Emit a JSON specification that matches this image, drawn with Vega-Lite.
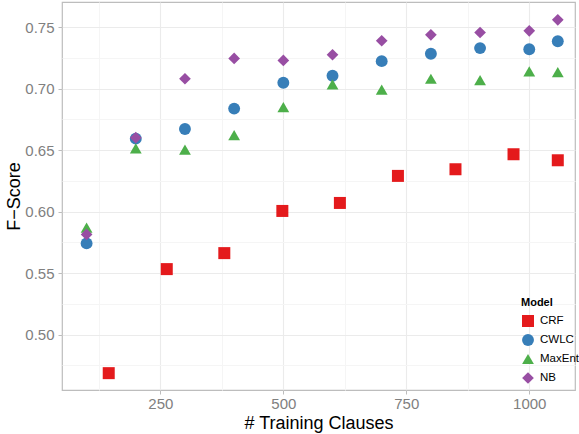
{
  "$schema": "https://vega.github.io/schema/vega-lite/v6.json",
  "width": 513,
  "height": 388,
  "autosize": "none",
  "padding": {"left": 62, "top": 2, "right": 4, "bottom": 44},
  "background": "white",
  "config": {
    "font": "Liberation Sans",
    "view": {"stroke": "#BDBDBD", "strokeWidth": 1.2}
  },
  "data": {
    "values": [
      {"clauses": 145, "fscore": 0.4687, "Model": "CRF"},
      {"clauses": 263, "fscore": 0.5533, "Model": "CRF"},
      {"clauses": 380, "fscore": 0.5663, "Model": "CRF"},
      {"clauses": 498, "fscore": 0.6006, "Model": "CRF"},
      {"clauses": 615, "fscore": 0.6071, "Model": "CRF"},
      {"clauses": 733, "fscore": 0.6291, "Model": "CRF"},
      {"clauses": 850, "fscore": 0.6345, "Model": "CRF"},
      {"clauses": 968, "fscore": 0.6467, "Model": "CRF"},
      {"clauses": 1058, "fscore": 0.6418, "Model": "CRF"},
      {"clauses": 100, "fscore": 0.5742, "Model": "CWLC"},
      {"clauses": 200, "fscore": 0.6594, "Model": "CWLC"},
      {"clauses": 300, "fscore": 0.6672, "Model": "CWLC"},
      {"clauses": 400, "fscore": 0.6838, "Model": "CWLC"},
      {"clauses": 500, "fscore": 0.7049, "Model": "CWLC"},
      {"clauses": 600, "fscore": 0.7105, "Model": "CWLC"},
      {"clauses": 700, "fscore": 0.7224, "Model": "CWLC"},
      {"clauses": 800, "fscore": 0.7284, "Model": "CWLC"},
      {"clauses": 900, "fscore": 0.7330, "Model": "CWLC"},
      {"clauses": 1000, "fscore": 0.7321, "Model": "CWLC"},
      {"clauses": 1058, "fscore": 0.7386, "Model": "CWLC"},
      {"clauses": 100, "fscore": 0.5870, "Model": "MaxEnt"},
      {"clauses": 200, "fscore": 0.6515, "Model": "MaxEnt"},
      {"clauses": 300, "fscore": 0.6505, "Model": "MaxEnt"},
      {"clauses": 400, "fscore": 0.6623, "Model": "MaxEnt"},
      {"clauses": 500, "fscore": 0.6850, "Model": "MaxEnt"},
      {"clauses": 600, "fscore": 0.7036, "Model": "MaxEnt"},
      {"clauses": 700, "fscore": 0.6993, "Model": "MaxEnt"},
      {"clauses": 800, "fscore": 0.7081, "Model": "MaxEnt"},
      {"clauses": 900, "fscore": 0.7070, "Model": "MaxEnt"},
      {"clauses": 1000, "fscore": 0.7140, "Model": "MaxEnt"},
      {"clauses": 1058, "fscore": 0.7135, "Model": "MaxEnt"},
      {"clauses": 100, "fscore": 0.5815, "Model": "NB"},
      {"clauses": 200, "fscore": 0.6602, "Model": "NB"},
      {"clauses": 300, "fscore": 0.7081, "Model": "NB"},
      {"clauses": 400, "fscore": 0.7246, "Model": "NB"},
      {"clauses": 500, "fscore": 0.7230, "Model": "NB"},
      {"clauses": 600, "fscore": 0.7276, "Model": "NB"},
      {"clauses": 700, "fscore": 0.7390, "Model": "NB"},
      {"clauses": 800, "fscore": 0.7438, "Model": "NB"},
      {"clauses": 900, "fscore": 0.7457, "Model": "NB"},
      {"clauses": 1000, "fscore": 0.7471, "Model": "NB"},
      {"clauses": 1058, "fscore": 0.7560, "Model": "NB"}
    ]
  },
  "mark": {"type": "point", "filled": true, "opacity": 1},
  "encoding": {
    "x": {
      "field": "clauses",
      "type": "quantitative",
      "scale": {"domain": [50, 1093], "nice": false, "zero": false},
      "axis": {
        "title": "# Training Clauses",
        "titleFontSize": 18,
        "titleFontWeight": "normal",
        "titleColor": "black",
        "titlePadding": 3,
        "values": [125, 250, 375, 500, 625, 750, 875, 1000],
        "labelExpr": "datum.value % 250 == 0 ? format(datum.value, 'd') : ''",
        "labelFontSize": 15,
        "labelColor": "#808080",
        "labelPadding": 2,
        "domain": false,
        "tickSize": 4,
        "tickColor": "#BDBDBD",
        "tickOpacity": {"condition": {"test": "datum.value % 250 == 0", "value": 1}, "value": 0},
        "gridColor": {"condition": {"test": "datum.value % 250 == 0", "value": "#EBEBEB"}, "value": "#F5F5F5"},
        "gridWidth": 1.1
      }
    },
    "y": {
      "field": "fscore",
      "type": "quantitative",
      "scale": {"domain": [0.455, 0.7705], "nice": false, "zero": false},
      "axis": {
        "title": "F\u2212Score",
        "titleFontSize": 18,
        "titleFontWeight": "normal",
        "titleColor": "black",
        "titlePadding": 1,
        "values": [0.475, 0.5, 0.525, 0.55, 0.575, 0.6, 0.625, 0.65, 0.675, 0.7, 0.725, 0.75],
        "labelExpr": "abs(datum.value*20 - round(datum.value*20)) < 0.001 ? format(datum.value, '.2f') : ''",
        "labelFontSize": 15,
        "labelColor": "#808080",
        "labelPadding": 4,
        "domain": false,
        "tickSize": 4,
        "tickColor": "#BDBDBD",
        "tickOpacity": {"condition": {"test": "abs(datum.value*20 - round(datum.value*20)) < 0.001", "value": 1}, "value": 0},
        "gridColor": {"condition": {"test": "abs(datum.value*20 - round(datum.value*20)) < 0.001", "value": "#EBEBEB"}, "value": "#F5F5F5"},
        "gridWidth": 1.1
      }
    },
    "color": {
      "field": "Model",
      "type": "nominal",
      "scale": {"domain": ["CRF", "CWLC", "MaxEnt", "NB"], "range": ["#E41A1C", "#377EB8", "#4DAF4A", "#984EA3"]},
      "legend": {
        "orient": "none",
        "legendX": 459,
        "legendY": 295,
        "title": "Model",
        "titleFontSize": 11,
        "titleFontWeight": "bold",
        "titleColor": "black",
        "titlePadding": 6,
        "labelFontSize": 11.5,
        "labelColor": "black",
        "labelOffset": 5,
        "rowPadding": 1,
        "symbolSize": 150,
        "symbolOpacity": 1
      }
    },
    "shape": {
      "field": "Model",
      "type": "nominal",
      "scale": {"domain": ["CRF", "CWLC", "MaxEnt", "NB"], "range": ["square", "circle", "triangle-up", "diamond"]}
    },
    "size": {
      "field": "Model",
      "type": "nominal",
      "scale": {"domain": ["CRF", "CWLC", "MaxEnt", "NB"], "range": [144, 137, 195, 90]},
      "legend": null
    }
  }
}
